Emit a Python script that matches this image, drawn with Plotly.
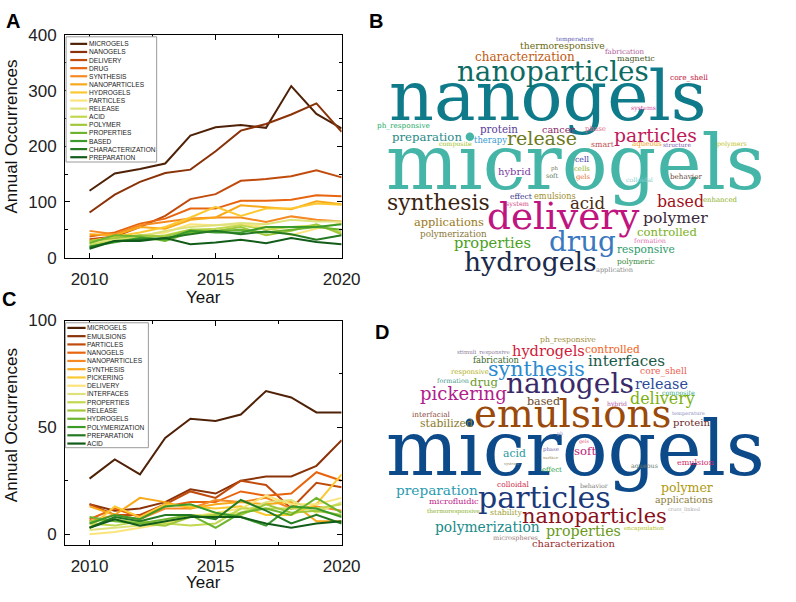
import plotly.graph_objects as go

W, H = 796, 602

YEARS = list(range(2010, 2021))

# ---------------- Panel A data ----------------
A_TERMS = ["MICROGELS", "NANOGELS", "DELIVERY", "DRUG", "SYNTHESIS", "NANOPARTICLES",
           "HYDROGELS", "PARTICLES", "RELEASE", "ACID", "POLYMER", "PROPERTIES",
           "BASED", "CHARACTERIZATION", "PREPARATION"]
A_MICROGELS = [120, 151, 159, 169, 219, 234, 238, 233, 308, 258, 232]
A_NANOGELS = [81, 113, 136, 152, 158, 191, 228, 240, 257, 277, 226]
A_DELIVERY = [33, 38, 55, 75, 105, 114, 138, 141, 146, 157, 144]
A_DRUG = [38, 45, 61, 70, 88, 88, 102, 102, 104, 112, 110]
A_SYNTHESIS = [48, 42, 58, 64, 70, 72, 72, 64, 74, 68, 65]
A_NANOPARTICLES = [42, 40, 55, 52, 68, 72, 94, 90, 87, 101, 96]
A_HYDROGELS = [30, 38, 45, 55, 72, 91, 75, 88, 88, 97, 95]
A_PARTICLES = [28, 35, 40, 45, 60, 58, 60, 55, 40, 52, 62]
A_RELEASE = [25, 32, 38, 48, 55, 58, 62, 60, 68, 65, 65]
A_ACID = [22, 30, 35, 40, 50, 52, 58, 50, 55, 58, 45]
A_POLYMER = [30, 35, 40, 38, 50, 48, 55, 40, 48, 60, 42]
A_PROPERTIES = [26, 40, 38, 30, 45, 48, 50, 45, 50, 55, 50]
A_BASED = [20, 28, 35, 33, 48, 45, 45, 55, 55, 55, 60]
A_CHARACTERIZATION = [18, 30, 32, 35, 42, 48, 42, 47, 42, 32, 40]
A_PREPARATION = [16, 30, 30, 35, 24, 27, 32, 26, 35, 28, 24]
A_SERIES = [A_MICROGELS, A_NANOGELS, A_DELIVERY, A_DRUG, A_SYNTHESIS, A_NANOPARTICLES,
            A_HYDROGELS, A_PARTICLES, A_RELEASE, A_ACID, A_POLYMER, A_PROPERTIES,
            A_BASED, A_CHARACTERIZATION, A_PREPARATION]

# ---------------- Panel C data ----------------
C_TERMS = ["MICROGELS", "EMULSIONS", "PARTICLES", "NANOGELS", "NANOPARTICLES", "SYNTHESIS",
           "PICKERING", "DELIVERY", "INTERFACES", "PROPERTIES", "RELEASE", "HYDROGELS",
           "POLYMERIZATION", "PREPARATION", "ACID"]
C_MICROGELS = [26, 35, 28, 45, 54, 53, 56, 67, 64, 57, 57]
C_EMULSIONS = [14, 11, 12, 15, 21, 19, 25, 27, 27, 32, 44]
C_PARTICLES = [14, 9, 9, 14, 20, 17, 25, 23, 12, 24, 22]
C_NANOGELS = [7, 12, 8, 13, 15, 15, 20, 18, 19, 29, 25]
C_NANOPARTICLES = [6, 9, 7, 12, 12, 16, 15, 17, 12, 13, 11]
C_SYNTHESIS = [13, 9, 17, 15, 12, 14, 15, 14, 15, 6, 6]
C_PICKERING = [3, 13, 8, 14, 13, 12, 13, 9, 9, 14, 28]
C_DELIVERY = [0, 1, 3, 5, 8, 10, 12, 18, 14, 14, 17]
C_INTERFACES = [2, 3, 4, 6, 9, 9, 10, 15, 16, 10, 15]
C_PROPERTIES = [5, 4, 6, 5, 4, 5, 12, 12, 12, 12, 14]
C_RELEASE = [6, 7, 5, 4, 8, 9, 9, 14, 10, 11, 9]
C_HYDROGELS = [8, 6, 5, 7, 9, 3, 10, 12, 9, 17, 10]
C_POLYMERIZATION = [5, 9, 7, 13, 14, 10, 8, 4, 13, 12, 8]
C_PREPARATION = [3, 8, 6, 9, 9, 7, 16, 11, 5, 9, 5]
C_ACID = [3, 7, 4, 6, 8, 8, 8, 5, 3, 5, 6]
C_SERIES = [C_MICROGELS, C_EMULSIONS, C_PARTICLES, C_NANOGELS, C_NANOPARTICLES, C_SYNTHESIS,
            C_PICKERING, C_DELIVERY, C_INTERFACES, C_PROPERTIES, C_RELEASE, C_HYDROGELS,
            C_POLYMERIZATION, C_PREPARATION, C_ACID]

# ---------------- Word clouds (words) ----------------
B_WORDS = ["microgels", "nanogels", "nanoparticles", "delivery", "drug", "hydrogels", "synthesis",
           "release", "particles", "preparation", "acid", "based", "polymer", "controlled",
           "responsive", "polymeric", "application", "formation", "properties", "applications",
           "polymerization", "characterization", "thermoresponsive", "temperature", "fabrication",
           "magnetic", "core_shell", "systems", "ph_responsive", "protein", "cancer", "phase",
           "therapy", "composite", "smart", "aqueous", "structure", "polymers", "cell", "hybrid",
           "ph", "cells", "soft", "gels", "colloidal", "behavior", "effect", "emulsions", "system",
           "enhanced"]
D_WORDS = ["microgels", "emulsions", "nanogels", "particles", "nanoparticles", "pickering",
           "synthesis", "hydrogels", "interfaces", "release", "delivery", "controlled",
           "ph_responsive", "stimuli_responsive", "fabrication", "responsive", "core_shell",
           "formation", "drug", "based", "composite", "hybrid", "interfacial", "temperature",
           "stabilized", "protein", "ph", "gels", "phase", "soft", "acid", "surface", "systems",
           "effect", "aqueous", "emulsion", "preparation", "colloidal", "behavior", "polymer",
           "microfluidic", "applications", "thermoresponsive", "stability", "cross_linked",
           "polymerization", "properties", "encapsulation", "microspheres", "characterization"]

# ---------------- styles / layout (not data) ----------------
PALETTE = ["#4f2208", "#8a3208", "#c04b0c", "#e8650f", "#f58a25", "#f8a818", "#fcc832",
           "#fbe47a", "#dfe27a", "#c2d850", "#9fc83a", "#6cb42e", "#3b9a2a", "#237a22", "#125c1a"]

# placement of each cloud word: (centre x px, x-height centre y px, width px, colour)
B_PLACE = [
    (590, 165, 380, "#45b5a8"), (561, 95, 318, "#0f7b8a"), (567, 67, 192, "#0e6b63"),
    (577, 217, 153, "#c0147f"), (597, 242, 67, "#3a78c0"), (543, 263, 133, "#1a2a4a"),
    (449, 202, 103, "#3a2410"), (555, 135, 70, "#6e7a1e"), (672, 132, 83, "#c01a5a"),
    (437, 133, 70, "#2a8a8a"), (602, 202, 35, "#4a2a10"), (697, 200, 47, "#a01020"),
    (692, 217, 65, "#3a2a3a"), (683, 231, 60, "#7ab020"), (662, 249, 58, "#2a9a6a"),
    (652, 261, 38, "#3a8a3a"), (630, 270, 37, "#888888"), (666, 240, 32, "#e070b0"),
    (505, 242, 77, "#4aa020"), (460, 221, 70, "#9a7a20"), (465, 233, 67, "#8a7a3a"),
    (538, 51, 100, "#c05a10"), (576, 39, 85, "#6a6a10"), (589, 32, 38, "#5a5ab0"),
    (640, 44, 39, "#b05a9a"), (652, 52, 38, "#4a5a2a"), (706, 71, 38, "#c02040"),
    (659, 103, 25, "#d050a0"), (413, 121, 53, "#2aaa6a"), (511, 125, 38, "#5a3a9a"),
    (572, 125, 33, "#8a2a6a"), (610, 124, 21, "#e07090"), (502, 136, 33, "#3a9ad0"),
    (467, 140, 33, "#a0c020"), (618, 141, 23, "#c05050"), (663, 140, 30, "#f0a020"),
    (694, 140, 28, "#7a5ab0"), (750, 140, 30, "#c0c020"), (596, 156, 14, "#3a3aa0"),
    (527, 169, 33, "#7a3aa0"), (568, 165, 7, "#7a7a5a"), (596, 166, 16, "#8ab020"),
    (566, 173, 12, "#5a7a5a"), (597, 174, 14, "#e06a20"), (655, 177, 27, "#8ad0d0"),
    (703, 174, 32, "#6a4a3a"), (534, 194, 22, "#3a3a8a"), (569, 194, 42, "#a09030"),
    (530, 202, 23, "#d04080"), (738, 198, 34, "#8ab020"),
]
D_PLACE = [
    (590, 460, 380, "#0d4a8a"), (587, 421, 198, "#9a4a0a"), (584, 389, 128, "#3a2a6a"),
    (558, 507, 133, "#1a3a7a"), (609, 525, 145, "#8a1020"), (475, 399, 87, "#b0208a"),
    (550, 373, 97, "#2a8ad0"), (562, 354, 73, "#d01a3a"), (642, 365, 77, "#1a5a4a"),
    (678, 388, 53, "#2a4a9a"), (679, 404, 65, "#7ab010"), (627, 352, 55, "#f06020"),
    (582, 342, 56, "#a09040"), (495, 355, 53, "#8a7a9a"), (509, 363, 46, "#3a6a2a"),
    (481, 375, 38, "#b0b020"), (680, 375, 47, "#f06050"), (464, 385, 32, "#4a9a8a"),
    (496, 386, 28, "#6a9a2a"), (557, 406, 33, "#6a4a2a"), (695, 397, 33, "#3aaa8a"),
    (632, 408, 20, "#b05aa0"), (442, 419, 38, "#8a4a3a"), (705, 418, 33, "#8a8ac0"),
    (457, 429, 53, "#8a7a2a"), (708, 428, 37, "#6a2a2a"), (574, 439, 6, "#8a8aca"),
    (598, 448, 10, "#e05a80"), (564, 455, 16, "#7a6ab0"), (599, 457, 22, "#c01a7a"),
    (527, 460, 23, "#2a9aa0"), (564, 463, 15, "#9a8a5a"), (524, 470, 15, "#8a8a6a"),
    (565, 477, 20, "#2a9a4a"), (660, 472, 27, "#6a7a6a"), (712, 469, 37, "#d02a6a"),
    (448, 498, 82, "#2a9ab0"), (526, 492, 32, "#d02a4a"), (609, 493, 28, "#7a7a7a"),
    (704, 495, 52, "#b09a10"), (465, 509, 50, "#c01a8a"), (701, 507, 58, "#8a7a3a"),
    (465, 519, 53, "#8ab02a"), (518, 521, 32, "#a0a030"), (701, 517, 32, "#aaaaaa"),
    (499, 536, 105, "#1a8a8a"), (598, 540, 75, "#6a9a1a"), (660, 537, 40, "#b0c020"),
    (528, 547, 45, "#9a7a7a"), (588, 553, 83, "#9a2a2a"),
]

# approximate DejaVu Serif advance widths (em)
CW = dict(a=.596, b=.640, c=.560, d=.640, e=.592, f=.361, g=.640, h=.645, i=.322, j=.312,
          k=.611, l=.322, m=.956, n=.645, o=.602, p=.640, q=.640, r=.479, s=.513, t=.402,
          u=.645, v=.569, w=.847, x=.569, y=.569, z=.526, _=.5)


def px(x):
    return x / W


def py(y):
    return 1 - y / H


fig = go.Figure()

PX0, PX1 = 66.7, 350.0
A_Y0, A_Y1 = 26.7, 256.7
C_Y0, C_Y1 = 321.7, 553.3

for terms, series, xa, ya in [(A_TERMS, A_SERIES, "x", "y"), (C_TERMS, C_SERIES, "x2", "y2")]:
    for i, (name, vals) in enumerate(zip(terms, series)):
        fig.add_trace(go.Scatter(x=YEARS, y=vals, mode="lines", name=name,
                                 line=dict(color=PALETTE[i], width=2),
                                 xaxis=xa, yaxis=ya, showlegend=False))

tickfont = dict(family="Liberation Sans, Arial", size=17, color="#222222")
common_x = dict(range=[2009.03, 2020], tickmode="linear", tick0=2010, dtick=5,
                ticks="inside", ticklen=5, tickcolor="black", showline=True, linecolor="black",
                linewidth=1, mirror="ticks", showgrid=False, zeroline=False, tickfont=tickfont,
                minor=dict(dtick=2.5, tick0=2010, ticks="inside", ticklen=3, tickcolor="black"),
                ticklabelstandoff=6)
common_y = dict(ticks="inside", ticklen=5, tickcolor="black", showline=True, linecolor="black",
                linewidth=1, mirror="ticks", showgrid=False, zeroline=False, tickfont=tickfont,
                ticklabelstandoff=4)

fig.update_layout(
    width=W, height=H, margin=dict(l=0, r=0, t=0, b=0),
    paper_bgcolor="white", plot_bgcolor="white", showlegend=False,
    xaxis=dict(domain=[px(PX0), px(PX1)], anchor="y", **common_x),
    yaxis=dict(domain=[py(A_Y1), py(A_Y0)], anchor="x", range=[0, 400], tickmode="linear",
               tick0=0, dtick=100, minor=dict(dtick=50, ticks="inside", ticklen=3,
                                              tickcolor="black"), **common_y),
    xaxis2=dict(domain=[px(PX0), px(PX1)], anchor="y2", **common_x),
    yaxis2=dict(domain=[py(C_Y1), py(C_Y0)], anchor="x2", range=[-5, 100], tickmode="array",
                tickvals=[0, 50, 100], minor=dict(tickvals=[25, 75], ticks="inside", ticklen=3,
                                                  tickcolor="black"), **common_y),
)

ann = []
shapes = []
sans = "Liberation Sans, Arial"


def add_text(x, y, text, size, color="#111111", family=sans, xanchor="center",
             yanchor="middle", angle=0, bold=False):
    ann.append(dict(x=px(x), y=py(y), xref="paper", yref="paper", text=(f"<b>{text}</b>" if bold else text),
                    showarrow=False, xanchor=xanchor, yanchor=yanchor, textangle=angle,
                    font=dict(family=family, size=size, color=color), borderpad=0))


# axis titles
add_text(12, 132, "Annual Occurrences", 17, angle=-90)
add_text(12, 430, "Annual Occurrences", 17, angle=-90)
add_text(208, 298, "Year", 17)
add_text(208, 592, "Year", 17)

# panel letters
add_text(13, 12, "A", 20, color="black", bold=True)
add_text(385, 12, "B", 20, color="black", bold=True)
add_text(9, 299, "C", 20, color="black", bold=True)
add_text(391, 334, "D", 20, color="black", bold=True)

# legends
for terms, (bx0, by0, bx1, by1), y_first, step, lx0, lx1 in [
        (A_TERMS, (67.7, 28.7, 160.5, 158.0), 36.0, 8.36, 72.0, 89.3),
        (C_TERMS, (67.0, 324.0, 152.0, 453.0), 329.3, 8.53, 69.0, 87.7)]:
    shapes.append(dict(type="rect", xref="paper", yref="paper", x0=px(bx0), x1=px(bx1),
                       y0=py(by1), y1=py(by0), line=dict(color="#9a9a9a", width=1),
                       fillcolor="white", layer="above"))
    for i, t in enumerate(terms):
        yy = y_first + i * step
        shapes.append(dict(type="line", xref="paper", yref="paper", x0=px(lx0), x1=px(lx1),
                           y0=py(yy), y1=py(yy), line=dict(color=PALETTE[i], width=2.2),
                           layer="above"))
        add_text(lx1 + 0.8, yy, t, 6.6, color="#1a1a1a", xanchor="left")


def word_width_em(w):
    return sum(CW.get(ch, 0.58) for ch in w)


for words, places in [(B_WORDS, B_PLACE), (D_WORDS, D_PLACE)]:
    for w, (cx, cy, wd, col) in zip(words, places):
        size = wd / word_width_em(w)
        add_text(cx, cy - 0.086 * size, w, size, color=col, family="DejaVu Serif")

fig.update_layout(annotations=ann, shapes=shapes)
fig.write_html("out.html", config={"displayModeBar": False},
               post_script="document.body.style.margin='0px';document.body.style.overflow='hidden';")
